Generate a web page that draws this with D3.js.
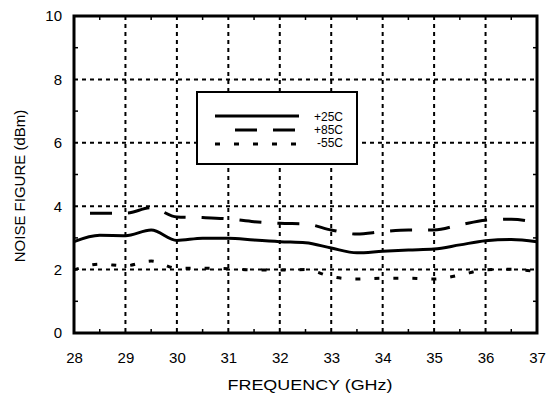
<!DOCTYPE html>
<html>
<head>
<meta charset="utf-8">
<script src="https://cdn.jsdelivr.net/npm/d3@7"></script>
<style>
  body { margin: 0; background: #fff; }
  text { font-family: "Liberation Sans", Arial, sans-serif; fill: #000; }
</style>
</head>
<body>
<svg id="chart" width="559" height="395"></svg>
<script>
// frequency points (GHz)
var freq = [28, 28.5, 29, 29.5, 30, 30.5, 31, 31.5, 32, 32.5, 33, 33.5, 34, 34.5, 35, 35.5, 36, 36.5, 37];

// noise figure per temperature
var nf25 = [2.88, 3.08, 3.07, 3.25, 2.92, 2.99, 2.99, 2.93, 2.88, 2.85, 2.68, 2.53, 2.58, 2.62, 2.65, 2.78, 2.91, 2.95, 2.88];
var nf85 = [3.78, 3.78, 3.78, 3.95, 3.66, 3.64, 3.6, 3.51, 3.46, 3.44, 3.25, 3.12, 3.2, 3.25, 3.25, 3.41, 3.56, 3.59, 3.48];
var nf55 = [1.99, 2.17, 2.12, 2.27, 2.04, 2.04, 2.03, 1.99, 1.99, 2.0, 1.78, 1.7, 1.73, 1.73, 1.7, 1.83, 1.99, 2.01, 1.93];

var xTicks = [28, 29, 30, 31, 32, 33, 34, 35, 36, 37];
var yTicks = [0, 2, 4, 6, 8, 10];
var legendLabels = ["+25C", "+85C", "-55C"];

var svg = d3.select("#chart");
var margin = {top: 16, right: 22, bottom: 62, left: 74},
    width = 559 - margin.left - margin.right,
    height = 395 - margin.top - margin.bottom;

var g = svg.append("g")
    .attr("transform", "translate(" + margin.left + "," + margin.top + ")");

var x = d3.scaleLinear().domain([28, 37]).range([0, width]);
var y = d3.scaleLinear().domain([0, 10]).range([height, 0]);

// grid
g.selectAll(".vgrid")
    .data(xTicks.slice(1, -1))
    .enter().append("line")
    .attr("x1", function (d) { return x(d); })
    .attr("x2", function (d) { return x(d); })
    .attr("y1", 0)
    .attr("y2", height)
    .attr("stroke", "#000")
    .attr("stroke-width", 2)
    .attr("stroke-dasharray", "4,4");

g.selectAll(".hgrid")
    .data(yTicks.slice(1, -1))
    .enter().append("line")
    .attr("y1", function (d) { return y(d); })
    .attr("y2", function (d) { return y(d); })
    .attr("x1", 0)
    .attr("x2", width)
    .attr("stroke", "#000")
    .attr("stroke-width", 2)
    .attr("stroke-dasharray", "4,4");

// minor ticks, inward on all four sides
var xMinor = d3.range(28.5, 37, 1);
var yMinor = d3.range(1, 10, 2);

g.selectAll(".xminB")
    .data(xMinor)
    .enter().append("line")
    .attr("x1", function (d) { return x(d); })
    .attr("x2", function (d) { return x(d); })
    .attr("y1", height).attr("y2", height - 4)
    .attr("stroke", "#000").attr("stroke-width", 1.5);

g.selectAll(".xminT")
    .data(xMinor)
    .enter().append("line")
    .attr("x1", function (d) { return x(d); })
    .attr("x2", function (d) { return x(d); })
    .attr("y1", 0).attr("y2", 4)
    .attr("stroke", "#000").attr("stroke-width", 1.5);

g.selectAll(".yminL")
    .data(yMinor)
    .enter().append("line")
    .attr("y1", function (d) { return y(d); })
    .attr("y2", function (d) { return y(d); })
    .attr("x1", 0).attr("x2", 4)
    .attr("stroke", "#000").attr("stroke-width", 1.5);

g.selectAll(".yminR")
    .data(yMinor)
    .enter().append("line")
    .attr("y1", function (d) { return y(d); })
    .attr("y2", function (d) { return y(d); })
    .attr("x1", width).attr("x2", width - 4)
    .attr("stroke", "#000").attr("stroke-width", 1.5);

// curves
var line = d3.line()
    .x(function (d) { return x(d[0]); })
    .y(function (d) { return y(d[1]); })
    .curve(d3.curveMonotoneX);

var series = [
    {name: legendLabels[0], values: nf25, dash: null, offset: 0},
    {name: legendLabels[1], values: nf85, dash: "22,16", offset: 22},
    {name: legendLabels[2], values: nf55, dash: "5,14", offset: 0}
];

g.selectAll(".series")
    .data(series)
    .enter().append("path")
    .attr("fill", "none")
    .attr("stroke", "#000")
    .attr("stroke-width", 3)
    .attr("stroke-dasharray", function (d) { return d.dash; })
    .attr("stroke-dashoffset", function (d) { return d.offset; })
    .attr("d", function (d) {
        return line(d.values.map(function (v, i) { return [freq[i], v]; }));
    });

// axes
g.append("g")
    .attr("transform", "translate(0," + height + ")")
    .call(d3.axisBottom(x).tickValues(xTicks).tickSize(0).tickPadding(19).tickFormat(d3.format("d")))
    .call(function (a) { a.select(".domain").remove(); })
    .selectAll("text")
    .style("font-size", "15px")
    .style("font-family", "Liberation Sans, Arial, sans-serif");

g.append("g")
    .call(d3.axisLeft(y).tickValues(yTicks).tickSize(0).tickPadding(12).tickFormat(d3.format("d")))
    .call(function (a) { a.select(".domain").remove(); })
    .selectAll("text")
    .style("font-size", "15px")
    .style("font-family", "Liberation Sans, Arial, sans-serif");

// frame
g.append("rect")
    .attr("x", 0).attr("y", 0)
    .attr("width", width).attr("height", height)
    .attr("fill", "none")
    .attr("stroke", "#000")
    .attr("stroke-width", 3);

// legend
var legend = svg.append("g");
legend.append("rect")
    .attr("x", 197).attr("y", 92)
    .attr("width", 160).attr("height", 72)
    .attr("fill", "#fff")
    .attr("stroke", "#000")
    .attr("stroke-width", 2);

var lx = [215, 235, 215];
series.forEach(function (s, i) {
    var ly = 116 + i * 14;
    legend.append("line")
        .attr("x1", lx[i]).attr("x2", 299)
        .attr("y1", ly).attr("y2", ly)
        .attr("stroke", "#000")
        .attr("stroke-width", 3)
        .attr("stroke-dasharray", s.dash);
    legend.append("text")
        .attr("x", 343)
        .attr("y", 121 + i * 13)
        .attr("text-anchor", "end")
        .style("font-size", "12px")
        .text(s.name);
});

// axis titles
svg.append("text")
    .attr("x", 310)
    .attr("y", 390)
    .attr("text-anchor", "middle")
    .attr("textLength", 165)
    .attr("lengthAdjust", "spacingAndGlyphs")
    .style("font-size", "15px")
    .text("FREQUENCY (GHz)");

svg.append("text")
    .attr("transform", "translate(25,186) rotate(-90)")
    .attr("text-anchor", "middle")
    .style("font-size", "15px")
    .text("NOISE FIGURE (dBm)");
</script>
</body>
</html>
